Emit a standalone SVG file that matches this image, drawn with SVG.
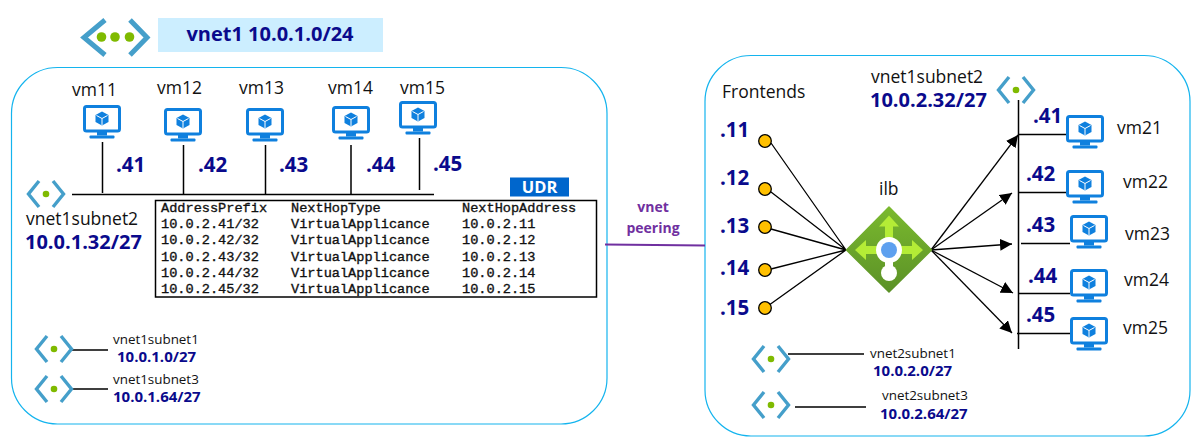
<svg xmlns="http://www.w3.org/2000/svg" width="1196" height="444" viewBox="0 0 1196 444">
<style>
text{font-family:"Open Sans","Noto Sans","Liberation Sans",sans-serif;fill:#111}
.n{font-size:17.500px}
.s{font-size:13.400px}
.ip{font-size:20.500px;font-weight:700;fill:#0a0a8c}
.cidr{font-size:20px;font-weight:700;fill:#0a0a8c}
.cs{font-size:15px;font-weight:700;fill:#0a0a8c}
.m{font-family:"Liberation Mono",monospace;font-size:13.6px;font-weight:400;fill:#111;stroke:#111;stroke-width:.35}
.box{fill:#fff;stroke:#14b4ee;stroke-width:1.2}
.l{stroke:#000;stroke-width:1.5;fill:none}
.f{fill:#ffc000;stroke:#000;stroke-width:1.3}
.a{stroke:#000;stroke-width:1.3;fill:none}
.ch{fill:none;stroke:#459fca;stroke-width:3.4}
</style>
<defs>
<linearGradient id="g" x1="0" y1="0" x2="0" y2="1"><stop offset="0" stop-color="#7ab92e"/><stop offset="1" stop-color="#5b9127"/></linearGradient>
<marker id="ah" markerUnits="userSpaceOnUse" markerWidth="13" markerHeight="12" refX="12" refY="6" orient="auto"><path d="M0 0L12 6L0 12Z" fill="#000"/></marker>
<symbol id="vm" width="38" height="35" viewBox="0 0 38 35">
<rect x="1.500" y="1.500" width="35" height="24.500" rx="2" fill="#fff" stroke="#0f80de" stroke-width="3"/>
<path d="M14 27h10v3.500h-10z" fill="#0f80de"/><rect x="6.500" y="30.500" width="25" height="3" rx="1" fill="#0f80de"/>
<path d="M19 6.500l6.500 3.500v7l-6.500 3.500l-6.500-3.500v-7z" fill="#0f80de"/>
<path d="M13.500 10.500l5.500 3l5.500-3M19 13.500v6.500" fill="none" stroke="#fff" stroke-width="1"/>
</symbol>
<symbol id="sn" width="40" height="30" viewBox="0 0 40 30">
<path class="ch" d="M13 2L2.500 15L13 28M27 2L37.500 15L27 28"/>
<circle cx="20" cy="15" r="3.300" fill="#7fba00"/>
</symbol>
</defs>

<g id="vnet1-box"><rect class="box" x="11.500" y="67.500" width="595.500" height="356.500" rx="46"/></g>
<g id="vnet2-box"><rect class="box" x="705" y="55.500" width="485" height="380.500" rx="46"/></g>

<g id="connectors">
<path class="l" d="M72 194.500H434M102.500 142V193M183.500 145V195M265.500 145V195M351 145V194M419.500 138V190"/>
<path d="M605 244.500L705 245.500" stroke="#7030a0" stroke-width="2" fill="none"/>
<path class="l" d="M72 350H108M72 389H108"/>
<path class="a" d="M771 143L846 250M771 192L846 250M771 229L846 250M771 269L846 250M765 308L846 250"/>
<path class="a" marker-end="url(#ah)" d="M931 250L1018 135"/>
<path class="a" marker-end="url(#ah)" d="M931 250L1012 193"/>
<path class="a" marker-end="url(#ah)" d="M931 250L1012 244"/>
<path class="a" marker-end="url(#ah)" d="M931 250L1013 293"/>
<path class="a" marker-end="url(#ah)" d="M931 250L1012 333"/>
<path class="l" d="M1018.500 100V349M1018 134.500H1066M1018 192.500H1070M1021 243.500H1070M1018 293.500H1070M1017 333.500H1070"/>
<path class="l" d="M788 354H864M795 407H866"/>
</g>

<g id="vnet1-title">
<g fill="none" stroke="#459fca" stroke-width="5"><path d="M105 20L84 37.500L105 55M130 20L147 37.500L130 55"/></g>
<circle cx="101.500" cy="37" r="4.800" fill="#7fba00"/><circle cx="115" cy="37" r="4.800" fill="#7fba00"/><circle cx="129.500" cy="37" r="4.800" fill="#7fba00"/>
<rect x="158" y="18" width="225" height="34" fill="#cceeff"/>
<text x="270" y="41" text-anchor="middle" class="cidr">vnet1 10.0.1.0/24</text>
</g>

<g id="vm11"><use href="#vm" x="83" y="105"/><text class="n" x="72" y="96">vm11</text><text class="ip" x="116" y="172">.41</text></g>
<g id="vm12"><use href="#vm" x="164" y="108"/><text class="n" x="157" y="94">vm12</text><text class="ip" x="198" y="172">.42</text></g>
<g id="vm13"><use href="#vm" x="246" y="108"/><text class="n" x="239" y="94">vm13</text><text class="ip" x="279" y="172">.43</text></g>
<g id="vm14"><use href="#vm" x="332" y="106"/><text class="n" x="328" y="94">vm14</text><text class="ip" x="366" y="172">.44</text></g>
<g id="vm15"><use href="#vm" x="399" y="101"/><text class="n" x="400" y="94">vm15</text><text class="ip" x="433" y="171">.45</text></g>

<g id="vnet1subnet2"><use href="#sn" x="26" y="179"/><text class="n" x="26" y="225">vnet1subnet2</text><text class="cidr" x="25" y="249">10.0.1.32/27</text></g>

<g id="udr"><rect x="510" y="177.500" width="59" height="19" fill="#0066cc"/><text x="539.500" y="193" text-anchor="middle" style="fill:#fff;font-weight:700;font-size:16.500px">UDR</text></g>

<g id="route-table">
<rect x="155.500" y="200.500" width="441" height="96.500" fill="#fff" stroke="#000" stroke-width="1.500"/>
<text class="m" x="161" y="212">AddressPrefix</text><text class="m" x="291" y="212">NextHopType</text><text class="m" x="462" y="212">NextHopAddress</text>
<text class="m" x="161" y="228">10.0.2.41/32</text><text class="m" x="291" y="228">VirtualApplicance</text><text class="m" x="462" y="228">10.0.2.11</text>
<text class="m" x="161" y="244">10.0.2.42/32</text><text class="m" x="291" y="244">VirtualApplicance</text><text class="m" x="462" y="244">10.0.2.12</text>
<text class="m" x="161" y="261">10.0.2.43/32</text><text class="m" x="291" y="261">VirtualApplicance</text><text class="m" x="462" y="261">10.0.2.13</text>
<text class="m" x="161" y="277">10.0.2.44/32</text><text class="m" x="291" y="277">VirtualApplicance</text><text class="m" x="462" y="277">10.0.2.14</text>
<text class="m" x="161" y="293">10.0.2.45/32</text><text class="m" x="291" y="293">VirtualApplicance</text><text class="m" x="462" y="293">10.0.2.15</text>
</g>

<g id="peering"><text x="653" y="212" text-anchor="middle" style="fill:#7030a0;font-weight:700;font-size:14px">vnet</text><text x="653" y="233" text-anchor="middle" style="fill:#7030a0;font-weight:700;font-size:14px">peering</text></g>

<g id="vnet1subnet1"><use href="#sn" x="34" y="334"/><text class="s" x="113" y="344">vnet1subnet1</text><text class="cs" x="117" y="362">10.0.1.0/27</text></g>
<g id="vnet1subnet3"><use href="#sn" x="34" y="374"/><text class="s" x="113" y="384">vnet1subnet3</text><text class="cs" x="113" y="402">10.0.1.64/27</text></g>

<text class="n" x="722" y="98">Frontends</text>
<g id="fe11"><circle class="f" cx="765" cy="141" r="6.300"/><text class="ip" x="720" y="137">.11</text></g>
<g id="fe12"><circle class="f" cx="765" cy="189" r="6.300"/><text class="ip" x="720" y="185">.12</text></g>
<g id="fe13"><circle class="f" cx="765" cy="227" r="6.300"/><text class="ip" x="720" y="233">.13</text></g>
<g id="fe14"><circle class="f" cx="765" cy="270" r="6.300"/><text class="ip" x="720" y="275">.14</text></g>
<g id="fe15"><circle class="f" cx="765" cy="308" r="6.300"/><text class="ip" x="720" y="315">.15</text></g>

<g id="ilb">
<text class="n" x="879" y="195">ilb</text>
<path d="M889 207L931.500 250L889 292L846.500 250Z" fill="url(#g)" stroke="url(#g)" stroke-width="1.500" stroke-linejoin="round"/>
<path d="M889 215.500L899 226.500H893V240H885V226.500H879ZM855 250L866 240V246H880V254H866V260ZM923 250L912 240V246H898V254H912V260Z" fill="#b4ec36"/>
<path d="M885 255h8v12h-8z" fill="#fff"/>
<circle cx="889" cy="250" r="13" fill="#fff"/><circle cx="889" cy="250" r="8" fill="#5ea0ef"/>
<circle cx="889" cy="273" r="8" fill="#fff"/>
</g>

<g id="vnet2subnet2"><use href="#sn" x="996" y="75"/><text class="n" x="871" y="83">vnet1subnet2</text><text class="cidr" x="870" y="107">10.0.2.32/27</text></g>

<g id="vm21"><use href="#vm" x="1066" y="115"/><text class="n" x="1117" y="134">vm21</text><text class="ip" x="1033" y="123">.41</text></g>
<g id="vm22"><use href="#vm" x="1066" y="170"/><text class="n" x="1123" y="188">vm22</text><text class="ip" x="1026" y="181">.42</text></g>
<g id="vm23"><use href="#vm" x="1070" y="215"/><text class="n" x="1125" y="240">vm23</text><text class="ip" x="1026" y="232">.43</text></g>
<g id="vm24"><use href="#vm" x="1070" y="269"/><text class="n" x="1124" y="286">vm24</text><text class="ip" x="1028" y="283">.44</text></g>
<g id="vm25"><use href="#vm" x="1070" y="317"/><text class="n" x="1123" y="334">vm25</text><text class="ip" x="1026" y="322">.45</text></g>

<g id="vnet2subnet1"><use href="#sn" x="751" y="344"/><text class="s" x="870" y="358">vnet2subnet1</text><text class="cs" x="873" y="376">10.0.2.0/27</text></g>
<g id="vnet2subnet3"><use href="#sn" x="751" y="390"/><text class="s" x="882" y="400">vnet2subnet3</text><text class="cs" x="880" y="419">10.0.2.64/27</text></g>
</svg>
